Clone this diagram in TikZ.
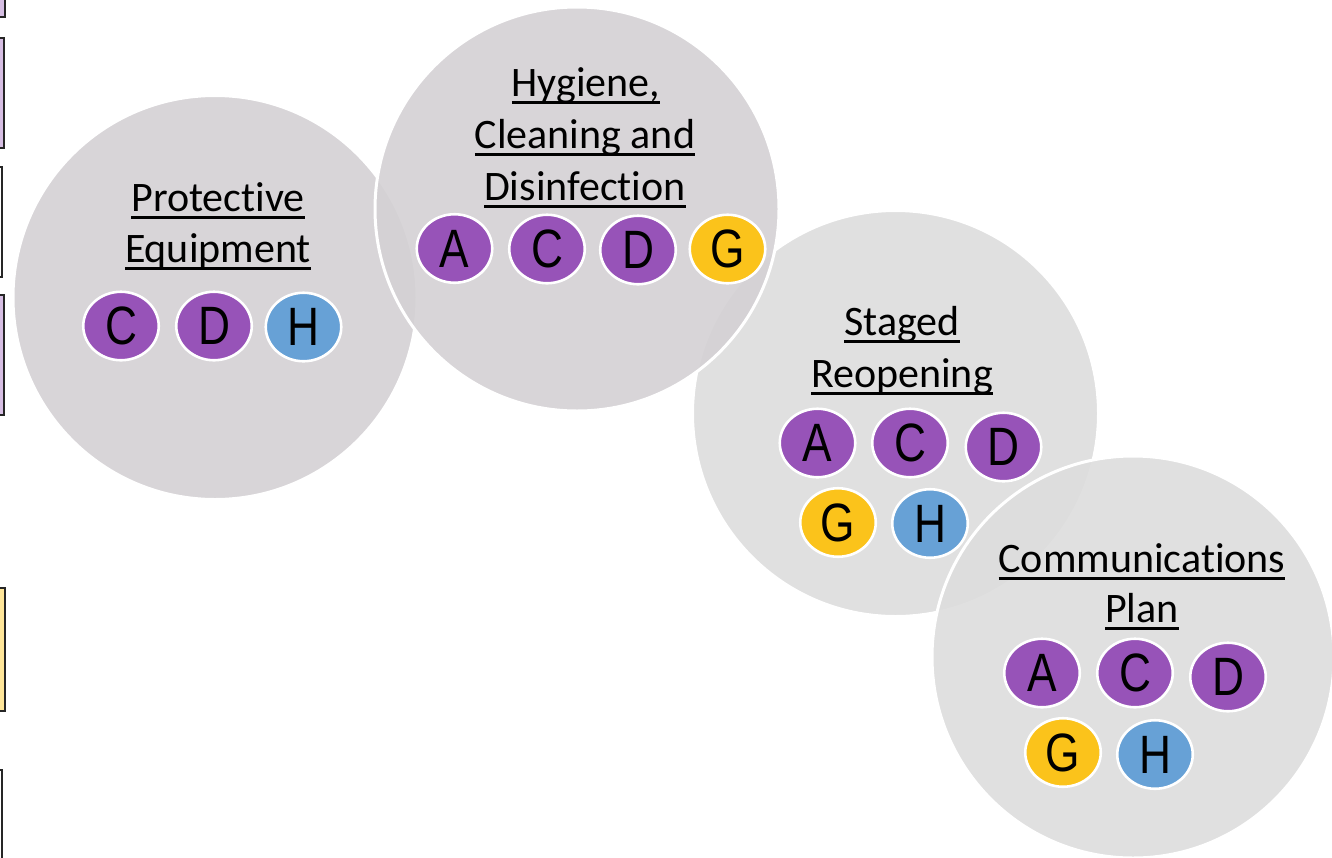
\documentclass[tikz,border=0pt]{standalone}
\usepackage{fontspec}
\usetikzlibrary{shapes.geometric}
\newfontfamily\titlefont[Ligatures={NoCommon}]{Carlito}
\newfontfamily\tagfont[FakeStretch=0.82]{Liberation Sans}
\definecolor{tagpurple}{HTML}{9753B8}
\definecolor{tagyellow}{HTML}{FBC31B}
\definecolor{tagblue}{HTML}{67A1D6}
\definecolor{grayA}{HTML}{D4D1D4}
\definecolor{grayB}{HTML}{DDDDDD}
\definecolor{boxpurple}{HTML}{D6BEE3}
\definecolor{boxyellow}{HTML}{FFE699}
\newcommand\myul[1]{\setbox0\hbox{#1}\rlap{\rule[-7.5pt]{\wd0}{2.6pt}}\box0}
\tikzset{
  bigcirc/.style={circle, draw=white, line width=3pt, inner sep=0pt, minimum size=#1, fill opacity=0.9},
  tagel/.style={ellipse, draw=white, line width=2.6pt, inner sep=0pt, minimum width=75.5pt, minimum height=68.5pt, font=\tagfont\fontsize{54}{54}\selectfont, text=black},
  pu/.style={tagel, fill=tagpurple},
  ye/.style={tagel, fill=tagyellow},
  bl/.style={tagel, fill=tagblue},
  ttl/.style={anchor=base, inner sep=0pt, font=\titlefont\fontsize{42}{50}\selectfont, text=black},
  edgebox/.style={draw=black!85, line width=2pt}
}
\begin{document}
\begin{tikzpicture}[x=1pt,y=-1pt]
\useasboundingbox (0,0) rectangle (1332,857);
\fill[white] (0,0) rectangle (1332,857);
% boxes at left edge
\draw[edgebox, fill=boxpurple] (-50,-20) rectangle (5,17);
\draw[edgebox, fill=boxpurple] (-50,38) rectangle (4,148);
\draw[edgebox, fill=white] (-50,167) rectangle (2,277);
\draw[edgebox, fill=boxpurple] (-50,295) rectangle (4,415);
\draw[edgebox, fill=boxyellow] (-50,588) rectangle (5,711);
\draw[edgebox, fill=white] (-50,770) rectangle (2,900);
% big circles
\node[bigcirc=404pt, fill=grayA] (pe) at (215,297.5) {};
\node[bigcirc=406pt, fill=grayB] (sr) at (895.5,413.5) {};
\node[bigcirc=404pt, fill=grayA] (hc) at (577,209) {};
\node[bigcirc=402pt, fill=grayB] (cp) at (1133,657) {};
% titles
\node[ttl] (pe1) at (218,211) {\myul{Protective}};
\node[ttl] (pe2) at (218,262) {\myul{Equipment}};
\node[ttl] (hc1) at (586,96) {\myul{Hygiene,}};
\node[ttl] (hc2) at (585,148) {\myul{Cleaning and}};
\node[ttl] (hc3) at (585,200) {\myul{Disinfection}};
\node[ttl] (sr1) at (902,335) {\myul{Staged}};
\node[ttl] (sr2) at (902,387) {\myul{Reopening}};
\node[ttl] (cp1) at (1142,572) {\myul{Communications}};
\node[ttl] (cp2) at (1142,622) {\myul{Plan}};
% tags: protective equipment
\node[pu] (peC) at (121,326) {C};
\node[pu] (peD) at (214,326) {D};
\node[bl] (peH) at (303.5,327) {H};
% tags: hygiene
\node[pu] (hcA) at (454.5,248.5) {A};
\node[pu] (hcC) at (547,249) {C};
\node[pu] (hcD) at (638,250) {D};
\node[ye] (hcG) at (727.5,249) {G};
% tags: staged reopening
\node[pu] (srA) at (817.5,443) {A};
\node[pu] (srC) at (910,443) {C};
\node[pu] (srD) at (1003.5,447) {D};
\node[ye] (srG) at (838,522.5) {G};
\node[bl] (srH) at (930,523.5) {H};
% tags: communications plan
\node[pu] (cpA) at (1042,673) {A};
\node[pu] (cpC) at (1135,673) {C};
\node[pu] (cpD) at (1228,677) {D};
\node[ye] (cpG) at (1063,752.5) {G};
\node[bl] (cpH) at (1155,754.5) {H};
\end{tikzpicture}
\end{document}
